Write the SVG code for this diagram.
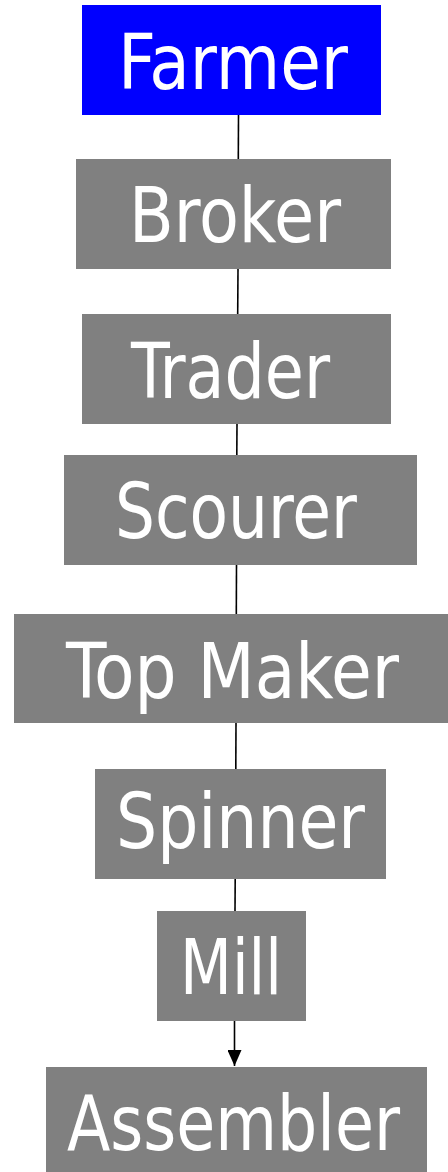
<svg xmlns="http://www.w3.org/2000/svg" width="448" height="1172" viewBox="0 0 448 1172">
<style>
.box{fill:#808080}
.lbl{fill:#fff;font-family:"DejaVu Sans Condensed","DejaVu Sans",Verdana,sans-serif;font-size:76px}
.edge{stroke:#000;stroke-width:1.6;fill:none}
</style>
<defs>
<marker id="arr" markerWidth="16" markerHeight="14" refX="16" refY="7" orient="auto" markerUnits="userSpaceOnUse" viewBox="0 0 16 14">
<path d="M0,0 L16,7 L0,14 Z" fill="#000"/>
</marker>
</defs>
<rect width="448" height="1172" fill="#fff"/>
<g id="connectors">
<line class="edge" x1="238.5" y1="115" x2="238.3" y2="159"/>
<line class="edge" x1="238" y1="269" x2="237.7" y2="314"/>
<line class="edge" x1="237" y1="424" x2="236.8" y2="455"/>
<line class="edge" x1="236.5" y1="565" x2="236.3" y2="614"/>
<line class="edge" x1="236" y1="723" x2="235.8" y2="769"/>
<line class="edge" x1="235.2" y1="879" x2="235" y2="911"/>
<line class="edge" x1="234.5" y1="1021" x2="234.5" y2="1066" marker-end="url(#arr)"/>
</g>
<g id="farmer"><rect x="82" y="5" width="299" height="110" fill="#0000ff"/><text class="lbl" x="118" y="89" textLength="230" lengthAdjust="spacingAndGlyphs">Farmer</text></g>
<g id="broker"><rect class="box" x="76" y="159" width="315" height="110"/><text class="lbl" x="129" y="242" textLength="212" lengthAdjust="spacingAndGlyphs">Broker</text></g>
<g id="trader"><rect class="box" x="82" y="314" width="309" height="110"/><text class="lbl" x="131" y="398" textLength="199" lengthAdjust="spacingAndGlyphs">Trader</text></g>
<g id="scourer"><rect class="box" x="64" y="455" width="353" height="110"/><text class="lbl" x="115" y="538" textLength="242" lengthAdjust="spacingAndGlyphs">Scourer</text></g>
<g id="topmaker"><rect class="box" x="14" y="614" width="434" height="109"/><text class="lbl" x="66" y="698" textLength="333" lengthAdjust="spacingAndGlyphs">Top Maker</text></g>
<g id="spinner"><rect class="box" x="95" y="769" width="291" height="110"/><text class="lbl" x="116" y="848" textLength="249" lengthAdjust="spacingAndGlyphs">Spinner</text></g>
<g id="mill"><rect class="box" x="157" y="911" width="149" height="110"/><text class="lbl" x="180" y="994" textLength="102" lengthAdjust="spacingAndGlyphs">Mill</text></g>
<g id="assembler"><rect class="box" x="46" y="1067" width="381" height="105"/><text class="lbl" x="67" y="1150" textLength="333" lengthAdjust="spacingAndGlyphs">Assembler</text></g>
</svg>
